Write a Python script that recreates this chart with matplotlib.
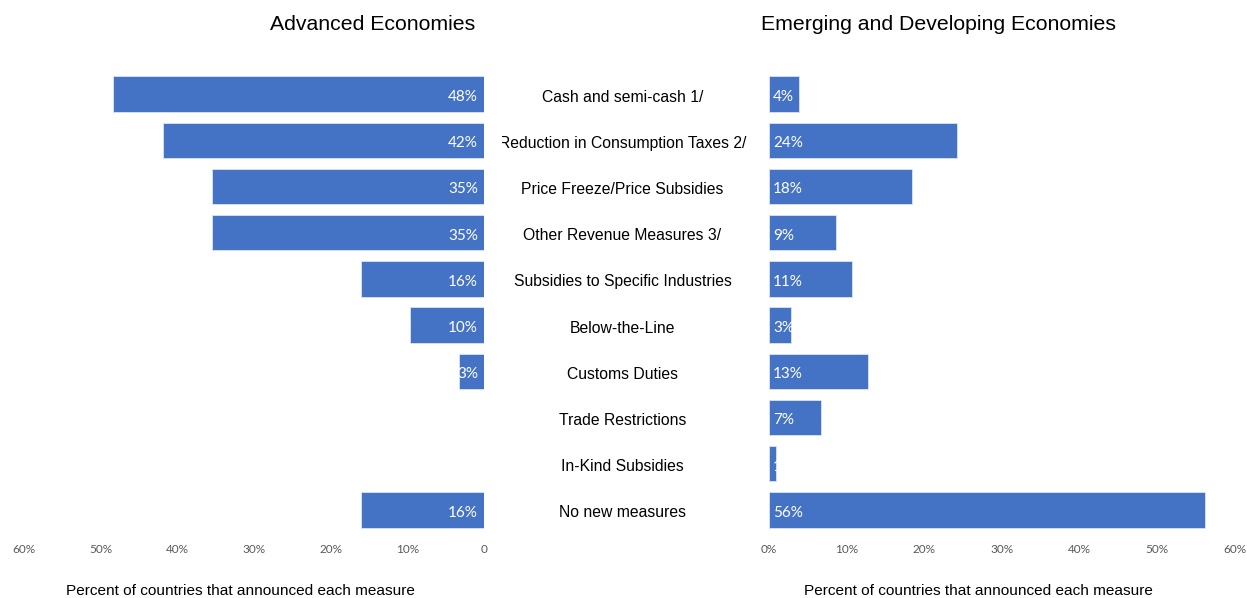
import matplotlib
matplotlib.use("Agg")
import matplotlib.pyplot as plt
from matplotlib.ticker import FixedLocator, FixedFormatter
import matplotlib.transforms as mtransforms

categories = ["Cash and semi-cash 1/", "Reduction in Consumption Taxes 2/",
              "Price Freeze/Price Subsidies", "Other Revenue Measures 3/",
              "Subsidies to Specific Industries", "Below-the-Line", "Customs Duties",
              "Trade Restrictions", "In-Kind Subsidies", "No new measures"]
advanced = [48.4, 41.9, 35.48, 35.48, 16.1, 9.7, 3.2, 0.0, 0.0, 16.1]
emerging = [3.9, 24.2, 18.4, 8.6, 10.7, 2.8, 12.7, 6.7, 0.9, 56.2]
ticks = [0, 10, 20, 30, 40, 50, 60]
left_tick_labels = ["0", "10%", "20%", "30%", "40%", "50%", "60%"]
right_tick_labels = ["0%", "10%", "20%", "30%", "40%", "50%", "60%"]
titles = ["Advanced Economies", "Emerging and Developing Economies"]
xlabel = "Percent of countries that announced each measure"

W, H = 1247, 598
fig = plt.figure(figsize=(W / 100, H / 100), dpi=100)
BLUE = "#4472C4"
SANS = ["Liberation Sans", "DejaVu Sans"]
CAL = ["Lato", "DejaVu Sans"]

def fx(px):
    return px / W

def fy(py):
    return 1 - py / H

bottom = fy(533)
height = fy(71) - bottom
axL = fig.add_axes([fx(24), bottom, fx(484) - fx(24), height])
axR = fig.add_axes([fx(769), bottom, fx(1235) - fx(769), height])
axM = fig.add_axes([fx(502), bottom, fx(768) - fx(502), height])

y = list(range(len(categories)))
down = mtransforms.ScaledTranslation(0, -3 / 100, fig.dpi_scale_trans)

for ax, vals, tl, left in [(axL, advanced, left_tick_labels, True),
                           (axR, emerging, right_tick_labels, False)]:
    ax.barh(y, vals, height=0.77, color=BLUE, edgecolor="#DCE4F2", linewidth=0.6)
    ax.set_ylim(len(categories) - 0.5, -0.5)
    ax.set_xlim(0, 60)
    if left:
        ax.invert_xaxis()
    ax.xaxis.set_major_locator(FixedLocator(ticks))
    ax.xaxis.set_major_formatter(FixedFormatter(tl))
    ax.tick_params(axis="x", length=0, pad=8, labelsize=8.5, labelcolor="#595959")
    for lab in ax.get_xticklabels():
        lab.set_family(CAL)
    ax.set_yticks([])
    for s in ax.spines.values():
        s.set_visible(False)
    for yi, v in zip(y, vals):
        if v <= 0:
            continue
        txt = f"{v:.0f}%"
        if left:
            t = ax.text(0.8, yi, txt, ha="right", va="center", color="white",
                        fontsize=11, family=CAL, transform=ax.transData + down)
        else:
            t = ax.text(0.55, yi, txt, ha="left", va="center", color="white",
                        fontsize=11, family=CAL, transform=ax.transData + down)
        t.set_clip_on(False)

axM.set_ylim(len(categories) - 0.5, -0.5)
axM.set_xlim(0, 1)
axM.axis("off")
cx = (622.5 - 502) / (768 - 502)
for yi, c in zip(y, categories):
    axM.text(cx, yi, c, ha="center", va="center", fontsize=11.3, family=SANS,
             color="black", clip_on=True, transform=axM.transData + down)

fig.text(fx(373), fy(25), titles[0], ha="center", va="center", fontsize=15.3, family=SANS)
fig.text(fx(939), fy(25), titles[1], ha="center", va="center", fontsize=15.3, family=SANS)
fig.text(fx(240), fy(591), xlabel, ha="center", va="center", fontsize=11.1, family=SANS)
fig.text(fx(978), fy(591), xlabel, ha="center", va="center", fontsize=11.1, family=SANS)

fig.savefig("out.png", dpi=100, facecolor="white")
